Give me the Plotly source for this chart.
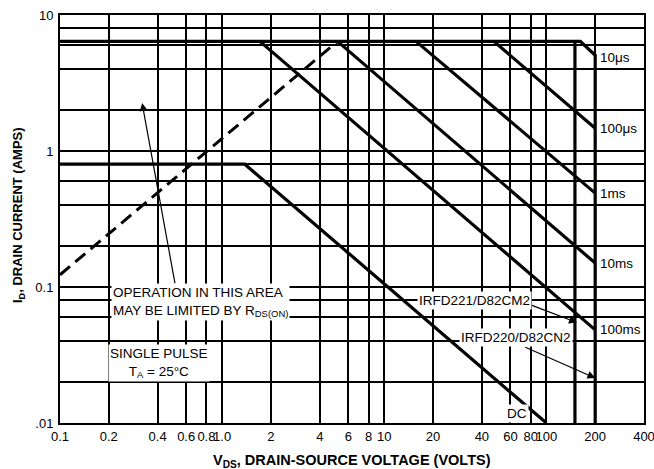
import math
import plotly.graph_objects as go

# ---- data (V in volts, I in amps) ----
v_envelope = [0.1, 162, 200, 200]          # 10us limit / top current limit
i_envelope = [6.4, 6.4, 5.06, 0.01]
v_150 = [150, 150]                          # IRFD221 voltage limit
i_150 = [6.4, 0.01]
v_100us = [47.4, 200]
i_100us = [6.4, 1.47]
v_1ms = [15.7, 200]
i_1ms = [6.4, 0.49]
v_10ms = [5.15, 200]
i_10ms = [6.4, 0.150]
v_100ms = [1.71, 200]
i_100ms = [6.4, 0.0484]
v_dc = [0.1, 1.38, 100]
i_dc = [0.8, 0.8, 0.01]
v_rds = [0.1, 5.15]                         # RDS(on) limit (dashed)
i_rds = [0.123, 6.4]

x_tickvals = [0.1, 0.2, 0.4, 0.6, 0.8, 1, 2, 4, 6, 8, 10, 20, 40, 60, 80, 100, 200, 400]
x_ticktext = ["0.1", "0.2", "0.4", "0.6", "0.8", "1.0", "2", "4", "6", "8", "10",
              "20", "40", "60", "80", "100", "200", "400"]
y_tickvals = [0.01, 0.1, 1, 10]
y_ticktext = [".01", "0.1", "1", "10"]
y_minor_grid = [0.02, 0.04, 0.06, 0.08, 0.2, 0.4, 0.6, 0.8, 2, 4, 6, 8]

curve_labels = ["10μs", "100μs", "1ms", "10ms", "100ms"]
curve_label_v = [209, 209, 209, 209, 209]
curve_label_i = [4.9, 1.47, 0.49, 0.150, 0.0484]

# arrows: (tail V, tail I, head V, head I)
arrow_tail_v = [0.514, 79.8, 72.6]
arrow_tail_i = [0.1035, 0.074, 0.0365]
arrow_head_v = [0.321, 154, 200]
arrow_head_i = [2.25, 0.0548, 0.0214]

L = math.log10

fig = go.Figure()
line_w = 3.2
for vx, iy in [(v_envelope, i_envelope), (v_150, i_150), (v_100us, i_100us),
               (v_1ms, i_1ms), (v_10ms, i_10ms), (v_100ms, i_100ms), (v_dc, i_dc)]:
    fig.add_trace(go.Scatter(x=vx, y=iy, mode="lines",
                             line=dict(color="black", width=line_w),
                             hoverinfo="skip"))
fig.add_trace(go.Scatter(x=v_rds, y=i_rds, mode="lines",
                         line=dict(color="black", width=3, dash="13px,7px"),
                         hoverinfo="skip"))

FONT = "Liberation Sans, Arial, Helvetica, sans-serif"
ann = []
for t, vx, iy in zip(curve_labels, curve_label_v, curve_label_i):
    ann.append(dict(x=L(vx), y=L(iy), xref="x", yref="y", text=t, showarrow=False,
                    xanchor="left", yanchor="middle",
                    font=dict(size=13.5, color="black", family=FONT)))

for tv, ti, hv, hi in zip(arrow_tail_v, arrow_tail_i, arrow_head_v, arrow_head_i):
    ann.append(dict(x=L(hv), y=L(hi), ax=L(tv), ay=L(ti), xref="x", yref="y",
                    axref="x", ayref="y", text="", showarrow=True,
                    arrowhead=2, arrowsize=1.3, arrowwidth=1.2, arrowcolor="black",
                    standoff=0, startstandoff=0))

text_blocks = [
    ("OPERATION IN THIS AREA<br>MAY BE LIMITED BY R<sub>DS(ON)</sub>", 0.205, 0.0778, "left", "left"),
    ("SINGLE PULSE<br>T<sub>A</sub> = 25°C", 0.41, 0.0277, "center", "center"),
    ("IRFD221/D82CM2", 36.1, 0.0794, "center", "center"),
    ("IRFD220/D82CN2", 65.3, 0.0423, "center", "center"),
    ("DC", 65.9, 0.0118, "center", "center"),
]
for t, vx, iy, xa, al in text_blocks:
    ann.append(dict(x=L(vx), y=L(iy), xref="x", yref="y", text=t, showarrow=False,
                    xanchor=xa, yanchor="middle", align=al, bgcolor="white",
                    borderpad=1,
                    font=dict(size=13.5, color="black", family=FONT)))

# axis titles
ann.append(dict(x=0.5, y=0, xref="paper", yref="paper", yshift=-38,
                text="V<sub>DS</sub>, DRAIN-SOURCE VOLTAGE (VOLTS)", showarrow=False,
                xanchor="center", yanchor="middle",
                font=dict(size=14.5, color="black", family=FONT, weight="bold")))
ann.append(dict(x=0, y=0.5, xref="paper", yref="paper", xshift=-42, yshift=4,
                text="I<sub>D</sub>, DRAIN CURRENT (AMPS)", showarrow=False,
                textangle=-90, xanchor="center", yanchor="middle",
                font=dict(size=13, color="black", family=FONT, weight="bold")))

axis_common = dict(showline=True, mirror=True, linecolor="black", linewidth=2,
                   showgrid=True, gridcolor="black", gridwidth=1.6,
                   zeroline=False, ticks="", tickmode="array", automargin=False,
                   ticklabeloverflow="allow",
                   tickfont=dict(size=13, color="black", family=FONT))

fig.update_layout(
    width=654, height=469,
    margin=dict(l=60, r=10, t=15, b=46),
    paper_bgcolor="white", plot_bgcolor="white",
    showlegend=False,
    annotations=ann,
    xaxis=dict(type="log", range=[L(0.1), L(400)], tickvals=x_tickvals,
               ticktext=x_ticktext, tickangle=0, **axis_common),
    yaxis=dict(type="log", range=[L(0.01), L(10)], tickvals=y_tickvals,
               ticktext=y_ticktext, ticklabelstandoff=2,
               minor=dict(tickmode="array", tickvals=y_minor_grid, showgrid=True,
                          gridcolor="black", gridwidth=1.6, ticks=""),
               **axis_common),
)

fig.write_html("out.html", config={"displayModeBar": False},
               post_script="document.body.style.margin='0';document.body.style.overflow='hidden';")
